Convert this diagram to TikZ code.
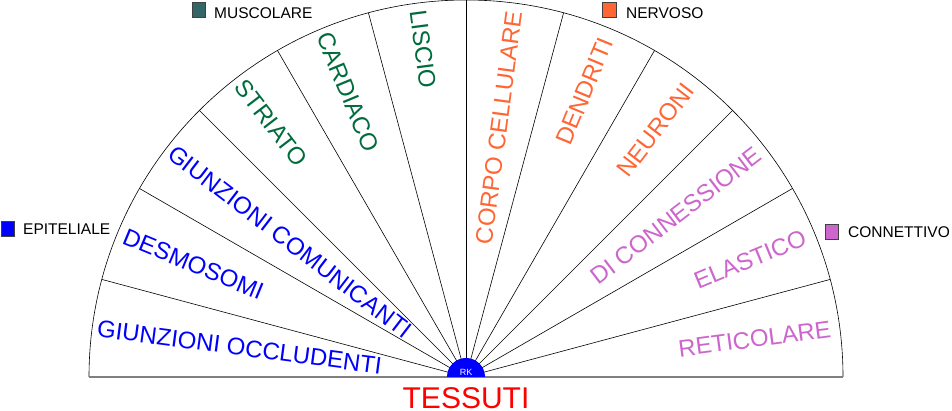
\documentclass[tikz,border=0pt]{standalone}
\usepackage{fontspec}
\setmainfont{Liberation Sans}
\usepackage{xcolor}
\usepackage{tikz}

\definecolor{epit}{HTML}{0000FF}
\definecolor{musc}{HTML}{006B3C}
\definecolor{musckey}{HTML}{336666}
\definecolor{nerv}{HTML}{FF6633}
\definecolor{conn}{HTML}{CC66CC}

\tikzset{
  ray/.style={black,line width=0.6pt},
  lblin/.style={inner sep=0pt,anchor=west,font=\fontsize{24}{28}\selectfont},
  lblout/.style={inner sep=0pt,anchor=east,font=\fontsize{24}{28}\selectfont},
  keybox/.style={draw=black!75,line width=0.8pt},
  keytext/.style={inner sep=0pt,anchor=west,font=\fontsize{15.5}{18}\selectfont}
}

\begin{document}
\begin{tikzpicture}[x=1pt,y=1pt]
\useasboundingbox (0,0) rectangle (952,411);
\coordinate (c) at (466,34);
% fan
\draw[ray] ([shift={(180:377)}]c) arc (180:0:377);
\draw[ray] (c) -- ++(165:377);
\draw[ray] (c) -- ++(150:377);
\draw[ray] (c) -- ++(135:377);
\draw[ray] (c) -- ++(120:377);
\draw[ray] (c) -- ++(105:377);
\draw[ray] (c) -- ++(90:377);
\draw[ray] (c) -- ++(75:377);
\draw[ray] (c) -- ++(60:377);
\draw[ray] (c) -- ++(45:377);
\draw[ray] (c) -- ++(30:377);
\draw[ray] (c) -- ++(15:377);
\draw[gray,line width=1.5pt] ([shift={(180:377)}]c) -- ([shift={(0:377)}]c);
% hub
\fill[epit] ([shift={(180:19)}]c) arc (180:0:19) -- cycle;
\node[text=white,inner sep=0pt,font=\fontsize{9}{10}\selectfont] (rk) at ([yshift=5]c) {RK};
\node[text=red,inner sep=0pt,anchor=north,font=\fontsize{30}{34}\selectfont] (title) at ([yshift=-10]c) {TESSUTI};
% epiteliale
\node[lblin,text=epit,rotate=-7.5] (occl) at ([shift={(172.5:372)}]c) {GIUNZIONI OCCLUDENTI};
\node[lblin,text=epit,rotate=-22.5] (desm) at ([shift={(157.5:370)}]c) {DESMOSOMI};
\node[lblin,text=epit,rotate=-37.5] (comu) at ([shift={(142.5:372)}]c) {GIUNZIONI COMUNICANTI};
% muscolare
\node[lblin,text=musc,rotate=-52.5] (stri) at ([shift={(127.5:371)}]c) {STRIATO};
\node[lblin,text=musc,rotate=-67.5] (card) at ([shift={(112.5:372)}]c) {CARDIACO};
\node[lblin,text=musc,rotate=-82.5] (lisc) at ([shift={(97.5:370)}]c) {LISCIO};
% nervoso
\node[lblout,text=nerv,rotate=82.5] (corp) at ([shift={(82.5:369)}]c) {CORPO CELLULARE};
\node[lblout,text=nerv,rotate=67.5] (dend) at ([shift={(67.5:366)}]c) {DENDRITI};
\node[lblout,text=nerv,rotate=52.5] (neur) at ([shift={(52.5:367)}]c) {NEURONI};
% connettivo
\node[lblout,text=conn,rotate=37.5] (dico) at ([shift={(37.5:369)}]c) {DI CONNESSIONE};
\node[lblout,text=conn,rotate=22.5] (elas) at ([shift={(22.5:367)}]c) {ELASTICO};
\node[lblout,text=conn,rotate=7.5] (reti) at ([shift={(7.5:368)}]c) {RETICOLARE};
% legend
\draw[keybox,fill=epit] (1,175) rectangle (14,190);
\node[keytext] (kepit) at (23,182) {EPITELIALE};
\draw[keybox,fill=musckey] (192,394) rectangle (205,409);
\node[keytext] (kmusc) at (214,398) {MUSCOLARE};
\draw[keybox,fill=nerv] (602,394) rectangle (616,409);
\node[keytext] (knerv) at (626,398) {NERVOSO};
\draw[keybox,fill=conn] (825,172) rectangle (838,187);
\node[keytext] (kconn) at (848,179) {CONNETTIVO};
\end{tikzpicture}
\end{document}
